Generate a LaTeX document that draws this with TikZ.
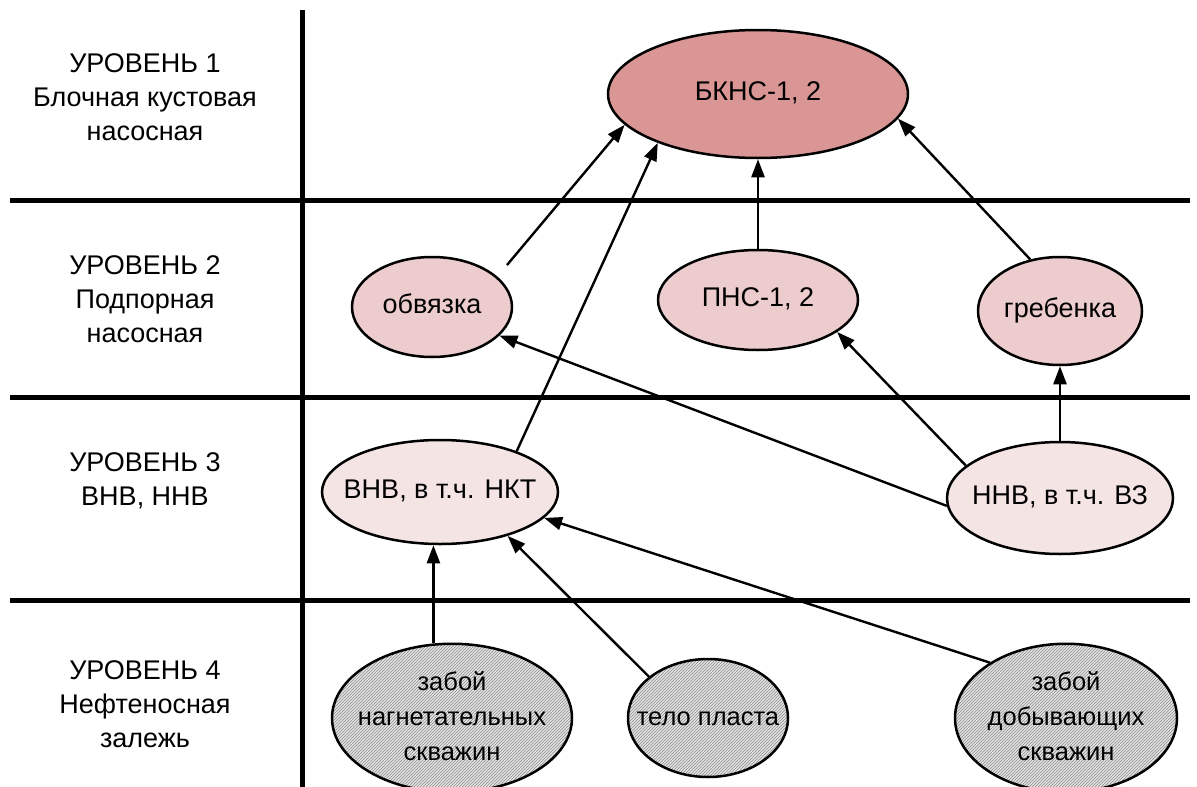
\documentclass[tikz,border=0pt]{standalone}
\usepackage{fontspec}
\setmainfont{Liberation Sans}
\usetikzlibrary{arrows.meta,shapes.geometric,patterns}
\definecolor{topred}{RGB}{217,150,148}
\definecolor{midred}{RGB}{236,204,204}
\definecolor{lowred}{RGB}{245,228,228}
\definecolor{hatchgray}{RGB}{228,228,228}
\newcommand{\ellt}[1]{\makebox[0pt]{\begin{tabular}{@{}c@{}}#1\end{tabular}}}

\begin{document}
\begin{tikzpicture}[x=1pt,y=-1pt,font=\fontsize{27}{34}\selectfont,
ell/.style={draw,ellipse,line width=2.5pt,inner sep=0pt},
lvone/.style={ell,fill=topred},
lvtwo/.style={ell,fill=midred},
lvthree/.style={ell,fill=lowred},
zone/.style={ell,preaction={fill=hatchgray},pattern=north east lines,pattern color=black!45,
  font=\fontsize{25.5}{35}\selectfont},
rule/.style={line width=5pt},
arr/.style={->,line width=2.4pt},
>={Triangle[length=18pt,width=13pt]}]
\useasboundingbox (0,0) rectangle (1197,787);
\foreach \y in {200,397,600}
  \draw[rule] (10,\y) -- (1190,\y);
\draw[rule] (302,10) -- (302,787);
\node[align=center] (lab1) at (145,97) {УРОВЕНЬ 1\\Блочная кустовая\\насосная};
\node[align=center] (lab2) at (145,299) {УРОВЕНЬ 2\\Подпорная\\насосная};
\node[align=center] (lab3) at (145,481) {УРОВЕНЬ 3\\ВНВ, ННВ};
\node[align=center] (lab4) at (145,704) {УРОВЕНЬ 4\\Нефтеносная\\залежь};
\node[lvone,minimum width=300,minimum height=128] (bkns) at (758,94) {\ellt{БКНС-1, 2}};
\node[lvtwo,minimum width=160,minimum height=100] (obv) at (432,307) {\ellt{обвязка}};
\node[lvtwo,minimum width=200,minimum height=100] (pns) at (758,300) {\ellt{ПНС-1, 2}};
\node[lvtwo,minimum width=164,minimum height=108] (greb) at (1060,311) {\ellt{гребенка}};
\node[lvthree,minimum width=236,minimum height=104] (vnv) at (440,492) {\ellt{ВНВ, в т.ч. НКТ}};
\node[lvthree,minimum width=226,minimum height=112] (nnv) at (1060,498) {\ellt{ННВ, в т.ч. ВЗ}};
\node[zone,minimum width=240,minimum height=124] (zn) at (452,718) {\ellt{забой\\нагнетательных\\скважин}};
\node[zone,minimum width=160,minimum height=118] (tp) at (708,718) {\ellt{тело пласта}};
\node[zone,minimum width=222,minimum height=124] (zd) at (1066,718) {\ellt{забой\\добывающих\\скважин}};
\draw[arr,shorten <=15pt] (obv.25) -- (bkns.193);
\draw[arr] (vnv.28) -- (bkns.206);
\draw[arr] (pns) -- (bkns);
\draw[arr] (greb.120) -- (bkns.350);
\draw[arr] (nnv.184) -- (obv.337);
\draw[arr] (nnv.161) -- (pns.338);
\draw[arr] (nnv) -- (greb);
\draw[arr] (zn.104) -- (zn.104 |- vnv.south);
\draw[arr] (tp.145) -- (vnv.327);
\draw[arr] (zd.144) -- (vnv.346);
\end{tikzpicture}
\end{document}
